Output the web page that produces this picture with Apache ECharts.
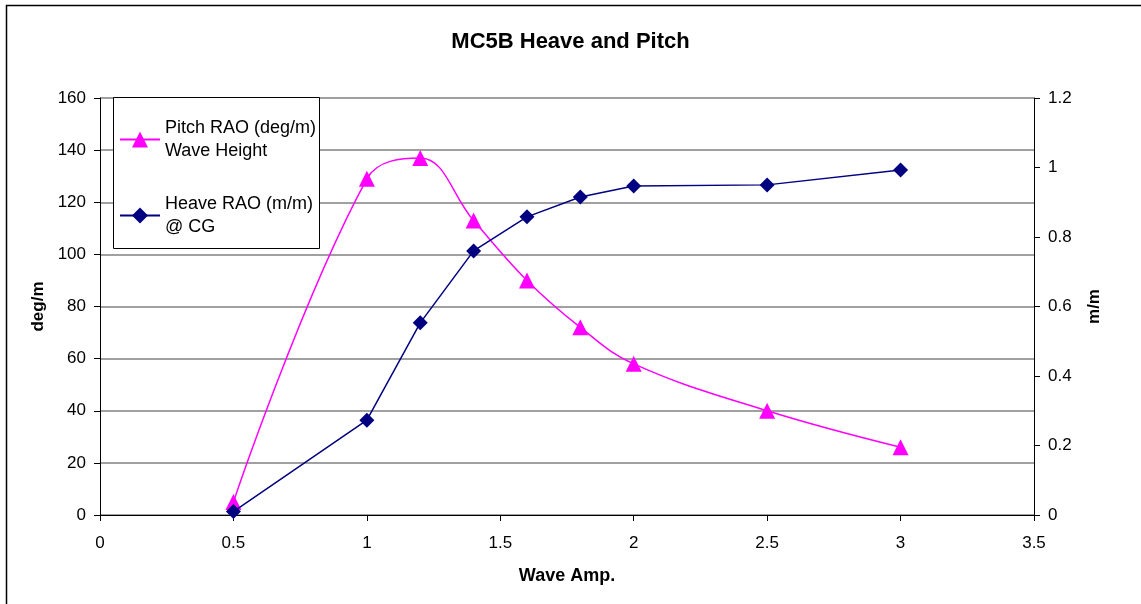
<!DOCTYPE html>
<html>
<head>
<meta charset="utf-8">
<script src="https://cdn.jsdelivr.net/npm/echarts@6/dist/echarts.min.js"></script>
<style>
html, body { margin: 0; padding: 0; background: #fff; }
#main { width: 1141px; height: 604px; }
</style>
</head>
<body>
<div id="main"></div>
<script>
var waveAmp = [0.5, 1, 1.2, 1.4, 1.6, 1.8, 2, 2.5, 3];
var pitchRao = [5, 129, 137, 113, 90, 72, 58, 40, 26];
var heaveRao = [0.01, 0.273, 0.553, 0.76, 0.858, 0.915, 0.947, 0.95, 0.993];

var pitchName = 'Pitch RAO (deg/m)\nWave Height';
var heaveName = 'Heave RAO (m/m)\n@ CG';

function pairs(xs, ys) {
    return xs.map(function (x, i) { return [x, ys[i]]; });
}

var myChart = echarts.init(document.getElementById('main'));

var font = 'Arial, "Liberation Sans", sans-serif';

var option = {
    backgroundColor: '#fff',
    animation: false,
    title: {
        text: 'MC5B Heave and Pitch',
        left: 'center',
        top: 26,
        textStyle: {
            fontFamily: font,
            fontSize: 22,
            fontWeight: 'bold',
            color: '#000'
        }
    },
    graphic: [
        {
            type: 'rect',
            shape: { x: 6.5, y: 5.5, width: 1200, height: 700 },
            style: { fill: null, stroke: '#000', lineWidth: 1.5 },
            z: -1
        },
        {
            type: 'rect',
            shape: { x: 113.5, y: 97.5, width: 206, height: 151 },
            style: { fill: '#fff', stroke: '#000', lineWidth: 1 },
            z: 10
        }
    ],
    legend: {
        orient: 'vertical',
        left: 114,
        top: 100,
        z: 11,
        itemWidth: 40,
        itemHeight: 20,
        itemGap: 7,
        data: [pitchName, heaveName],
        textStyle: {
            fontFamily: font,
            fontSize: 18,
            color: '#000',
            lineHeight: 23,
            padding: [23, 0, 0, 0]
        }
    },
    grid: {
        left: 100,
        right: 107,
        top: 98,
        bottom: 89
    },
    xAxis: {
        type: 'value',
        min: 0,
        max: 3.5,
        interval: 0.5,
        name: 'Wave Amp.',
        nameLocation: 'middle',
        nameGap: 52,
        nameTextStyle: { fontFamily: font, fontSize: 18, fontWeight: 'bold', color: '#000' },
        axisLine: { lineStyle: { color: '#000', width: 1 } },
        axisTick: { show: true, length: 6, lineStyle: { color: '#000' } },
        axisLabel: { fontFamily: font, fontSize: 17, color: '#000', margin: 20 },
        splitLine: { show: false }
    },
    yAxis: [
        {
            type: 'value',
            min: 0,
            max: 160,
            interval: 20,
            name: 'deg/m',
            nameLocation: 'middle',
            nameGap: 51,
            nameRotate: 90,
            nameTextStyle: { fontFamily: font, fontSize: 17, fontWeight: 'bold', color: '#000' },
            axisLine: { show: true, lineStyle: { color: '#000' } },
            axisTick: { show: true, length: 6, lineStyle: { color: '#000' } },
            axisLabel: { fontFamily: font, fontSize: 17, color: '#000', margin: 14 },
            splitLine: { show: true, lineStyle: { color: '#808080', width: 1.5 } }
        },
        {
            type: 'value',
            min: 0,
            max: 1.2,
            interval: 0.2,
            position: 'right',
            name: 'm/m',
            nameLocation: 'middle',
            nameGap: 52,
            nameRotate: 90,
            nameTextStyle: { fontFamily: font, fontSize: 17, fontWeight: 'bold', color: '#000' },
            axisLine: { show: true, lineStyle: { color: '#000' } },
            axisTick: { show: true, length: 6, lineStyle: { color: '#000' } },
            axisLabel: { fontFamily: font, fontSize: 17, color: '#000', margin: 14 },
            splitLine: { show: false }
        }
    ],
    series: [
        {
            name: pitchName,
            type: 'line',
            yAxisIndex: 0,
            data: pairs(waveAmp, pitchRao),
            smooth: 0.4,
            symbol: 'triangle',
            symbolSize: 16,
            lineStyle: { color: '#ff00ff', width: 1.5 },
            itemStyle: { color: '#ff00ff' },
            z: 3
        },
        {
            name: heaveName,
            type: 'line',
            yAxisIndex: 1,
            data: pairs(waveAmp, heaveRao),
            symbol: 'diamond',
            symbolSize: 15,
            lineStyle: { color: '#000080', width: 1.5 },
            itemStyle: { color: '#000080' },
            z: 4
        }
    ]
};

myChart.setOption(option);
</script>
</body>
</html>
